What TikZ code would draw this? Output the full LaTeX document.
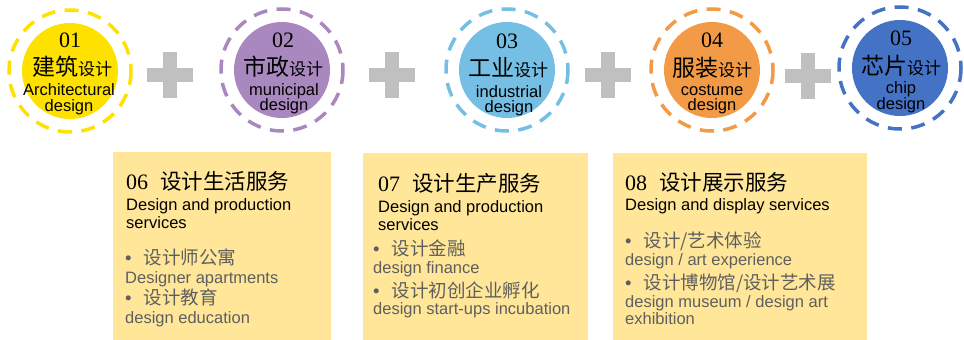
\documentclass[tikz,border=0pt]{standalone}
\usepackage{fontspec}
\setmainfont{Liberation Serif}
\setsansfont{Liberation Sans}
\newfontfamily\cjk{Noto Sans CJK SC}
\usepackage{tikz}
\definecolor{jzyellow}{HTML}{FFE100}
\definecolor{szpurple}{HTML}{A987BF}
\definecolor{gyblue}{HTML}{74BFE3}
\definecolor{fzorange}{HTML}{F29A46}
\definecolor{xpblue}{HTML}{4472C4}
\definecolor{fwyellow}{HTML}{FFE699}
\definecolor{plusgray}{HTML}{C0C0C0}
\definecolor{itemgray}{HTML}{5F5F5F}
\tikzset{
	ring/.style={line width=3.5pt, dash pattern=on 14pt off 9.5pt},
	cnum/.style={inner sep=0pt, anchor=base, font=\rmfamily\fontsize{22}{22}\selectfont},
	ccn/.style={inner sep=0pt, anchor=base, font=\cjk\fontsize{23}{23}\selectfont},
	cen/.style={inner sep=0pt, anchor=base, font=\sffamily\fontsize{16.5}{16.5}\selectfont},
	btitle/.style={inner sep=0pt, anchor=base west, font=\rmfamily\fontsize{22}{22}\selectfont},
	ben/.style={inner sep=0pt, anchor=base west, font=\sffamily\fontsize{16.5}{16.5}\selectfont},
	bitem/.style={inner sep=0pt, anchor=base west, text=itemgray, font=\cjk\fontsize{18.5}{18.5}\selectfont},
	bsub/.style={inner sep=0pt, anchor=base west, text=itemgray, font=\sffamily\fontsize{16.5}{16.5}\selectfont}
}
\newcommand{\sj}{{\fontsize{17}{17}\selectfont 设计}}
\newcommand{\itemdot}{{\sffamily •}\hspace{12pt}}
\newcommand{\fwcn}[1]{\hspace{12pt}{\cjk\fontsize{21.5}{21.5}\selectfont #1}}

\begin{document}
\begin{tikzpicture}[x=1pt,y=-1pt]
	\useasboundingbox (0,0) rectangle (964,340);

	% circles
	\fill [jzyellow] (70,71) circle (48);
	\draw [jzyellow, ring] (70,71) circle (61);
	\fill [szpurple] (282,70) circle (48);
	\draw [szpurple, ring] (282,70) circle (61);
	\fill [gyblue] (507,70) circle (48);
	\draw [gyblue, ring] (507,70) circle (61);
	\fill [fzorange] (712,70) circle (48);
	\draw [fzorange, ring] (712,70) circle (61);
	\fill [xpblue] (900,68) circle (48);
	\draw [xpblue, ring] (900,68) circle (61);

	% plus signs
	\fill [plusgray] (147,68) rectangle (193,82);
	\fill [plusgray] (163,52) rectangle (177,98);
	\fill [plusgray] (369,68) rectangle (415,82);
	\fill [plusgray] (385,52) rectangle (399,98);
	\fill [plusgray] (585,68) rectangle (631,82);
	\fill [plusgray] (601,52) rectangle (615,98);
	\fill [plusgray] (785,69) rectangle (831,83);
	\fill [plusgray] (801,53) rectangle (815,99);

	\node [cnum] (num1) at (70,47) {01};
	\node [ccn] (cn1) at (72,75) {建筑\sj};
	\node [cen] (en1a) at (69,95) {Architectural};
	\node [cen] (en1b) at (69,111) {design};

	\node [cnum] (num2) at (283,47) {02};
	\node [ccn] (cn2) at (283,75) {市政\sj};
	\node [cen] (en2a) at (284,95) {municipal};
	\node [cen] (en2b) at (284,110) {design};

	\node [cnum] (num3) at (507,48) {03};
	\node [ccn] (cn3) at (508,76) {工业\sj};
	\node [cen] (en3a) at (509,97) {industrial};
	\node [cen] (en3b) at (509,112) {design};

	\node [cnum] (num4) at (712,47) {04};
	\node [ccn] (cn4) at (712,76) {服装\sj};
	\node [cen] (en4a) at (712,95) {costume};
	\node [cen] (en4b) at (712,110) {design};

	\node [cnum] (num5) at (901,45) {05};
	\node [ccn] (cn5) at (901,74) {芯片\sj};
	\node [cen] (en5a) at (901,93) {chip};
	\node [cen] (en5b) at (901,109) {design};

	% service boxes
	\fill [fwyellow] (113,152) rectangle (331,340);
	\fill [fwyellow] (363,153) rectangle (588,340);
	\fill [fwyellow] (613,153) rectangle (867,340);

	\node [btitle] (t6) at (126,189) {06\fwcn{设计生活服务}};
	\node [ben] (t6a) at (126,210) {Design and production};
	\node [ben] (t6b) at (126,228) {services};
	\node [bitem] (i6a) at (125,264) {\itemdot 设计师公寓};
	\node [bsub] (s6a) at (125,283) {Designer apartments};
	\node [bitem] (i6b) at (125,304) {\itemdot 设计教育};
	\node [bsub] (s6b) at (125,323) {design education};

	\node [btitle] (t7) at (378,191) {07\fwcn{设计生产服务}};
	\node [ben] (t7a) at (378,212) {Design and production};
	\node [ben] (t7b) at (378,230) {services};
	\node [bitem] (i7a) at (373,255) {\itemdot 设计金融};
	\node [bsub] (s7a) at (373,273) {design finance};
	\node [bitem] (i7b) at (373,297) {\itemdot 设计初创企业孵化};
	\node [bsub] (s7b) at (373,314) {design start-ups incubation};

	\node [btitle] (t8) at (625,190) {08\fwcn{设计展示服务}};
	\node [ben] (t8a) at (625,210) {Design and display services};
	\node [bitem] (i8a) at (625,247) {\itemdot 设计/艺术体验};
	\node [bsub] (s8a) at (625,265) {design / art experience};
	\node [bitem] (i8b) at (625,289) {\itemdot 设计博物馆/设计艺术展};
	\node [bsub] (s8b) at (625,307) {design museum / design art};
	\node [bsub] (s8c) at (625,324) {exhibition};
\end{tikzpicture}
\end{document}
